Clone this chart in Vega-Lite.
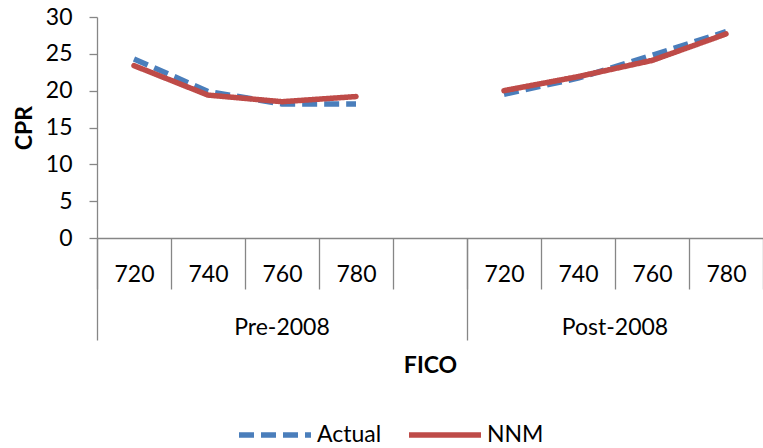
{
  "$schema": "https://vega.github.io/schema/vega-lite/v6.json",
  "width": 666,
  "height": 221,
  "autosize": {"type": "none"},
  "padding": {"left": 97, "top": 17, "right": 0, "bottom": 210},
  "background": "white",
  "config": {
    "view": {"stroke": null},
    "font": "Lato",
    "axis": {
      "grid": false,
      "domainColor": "#868686",
      "tickColor": "#868686",
      "domainWidth": 1.3,
      "tickWidth": 1.3,
      "labelColor": "black",
      "labelFont": "Lato",
      "labelFontSize": 23,
      "titleFont": "Lato",
      "titleFontSize": 23,
      "titleFontWeight": "bold",
      "titleColor": "black"
    }
  },
  "data": {
    "values": [
      {"period": "Pre-2008", "slot": "Pre-2008 720", "series": "Actual", "cpr": 24.3},
      {"period": "Pre-2008", "slot": "Pre-2008 740", "series": "Actual", "cpr": 19.9},
      {"period": "Pre-2008", "slot": "Pre-2008 760", "series": "Actual", "cpr": 18.2},
      {"period": "Pre-2008", "slot": "Pre-2008 780", "series": "Actual", "cpr": 18.2},
      {"period": "Post-2008", "slot": "Post-2008 720", "series": "Actual", "cpr": 19.5},
      {"period": "Post-2008", "slot": "Post-2008 740", "series": "Actual", "cpr": 21.7},
      {"period": "Post-2008", "slot": "Post-2008 760", "series": "Actual", "cpr": 24.8},
      {"period": "Post-2008", "slot": "Post-2008 780", "series": "Actual", "cpr": 28.0},
      {"period": "Pre-2008", "slot": "Pre-2008 720", "series": "NNM", "cpr": 23.4},
      {"period": "Pre-2008", "slot": "Pre-2008 740", "series": "NNM", "cpr": 19.4},
      {"period": "Pre-2008", "slot": "Pre-2008 760", "series": "NNM", "cpr": 18.5},
      {"period": "Pre-2008", "slot": "Pre-2008 780", "series": "NNM", "cpr": 19.2},
      {"period": "Post-2008", "slot": "Post-2008 720", "series": "NNM", "cpr": 20.0},
      {"period": "Post-2008", "slot": "Post-2008 740", "series": "NNM", "cpr": 21.9},
      {"period": "Post-2008", "slot": "Post-2008 760", "series": "NNM", "cpr": 24.1},
      {"period": "Post-2008", "slot": "Post-2008 780", "series": "NNM", "cpr": 27.7}
    ]
  },
  "encoding": {
    "y": {
      "field": "cpr",
      "type": "quantitative",
      "scale": {"domain": [0, 30], "nice": false, "zero": true},
      "axis": {
        "values": [0, 5, 10, 15, 20, 25, 30],
        "title": "CPR",
        "tickSize": 8,
        "labelPadding": 17,
        "titleAngle": -90,
        "titleX": -66,
        "titleY": 110.5,
        "titleAlign": "center",
        "titleBaseline": "alphabetic"
      }
    },
    "detail": {"field": "period", "type": "nominal"},
    "color": {
      "field": "series",
      "type": "nominal",
      "scale": {"domain": ["Actual", "NNM"], "range": ["#4A7EBB", "#BE4B48"]},
      "legend": {
        "title": null,
        "orient": "none",
        "legendX": 139,
        "legendY": 379,
        "direction": "horizontal",
        "symbolType": "stroke",
        "symbolSize": 5184,
        "symbolStrokeWidth": 5.5,
        "labelFont": "Lato",
        "labelFontSize": 23,
        "labelColor": "black",
        "labelOffset": 3,
        "columnPadding": 16,
        "padding": 0
      }
    },
    "strokeDash": {
      "field": "series",
      "type": "nominal",
      "scale": {"domain": ["Actual", "NNM"], "range": [[15, 7], [1, 0]]},
      "legend": {
        "title": null,
        "orient": "none",
        "legendX": 139,
        "legendY": 379,
        "direction": "horizontal",
        "symbolType": "stroke",
        "symbolSize": 5184,
        "symbolStrokeWidth": 5.5,
        "labelFont": "Lato",
        "labelFontSize": 23,
        "labelColor": "black",
        "labelOffset": 3,
        "columnPadding": 16,
        "padding": 0
      }
    }
  },
  "layer": [
    {
      "transform": [{"filter": "datum.series == 'Actual'"}],
      "mark": {"type": "line", "strokeWidth": 5.5, "strokeCap": "butt", "strokeJoin": "round"},
      "encoding": {
        "x": {
          "field": "slot",
          "type": "nominal",
          "sort": null,
          "scale": {
            "type": "band",
            "domain": ["Pre-2008 720", "Pre-2008 740", "Pre-2008 760", "Pre-2008 780", "gap", "Post-2008 720", "Post-2008 740", "Post-2008 760", "Post-2008 780"],
            "paddingInner": 0,
            "paddingOuter": 0
          },
          "axis": {
            "orient": "bottom",
            "title": "FICO",
            "tickBand": "extent",
            "tickSize": 51,
            "labelPadding": -26,
            "labelAngle": 0,
            "labelOverlap": false,
            "labelExpr": "datum.value == 'gap' ? '' : split(datum.value, ' ')[1]",
            "titleY": 134,
            "titleBaseline": "alphabetic"
          }
        }
      }
    },
    {
      "transform": [{"filter": "datum.series == 'NNM'"}],
      "mark": {"type": "line", "strokeWidth": 5.5, "strokeCap": "round", "strokeJoin": "round"},
      "encoding": {
        "x": {
          "field": "slot",
          "type": "nominal",
          "sort": null,
          "scale": {
            "type": "band",
            "domain": ["Pre-2008 720", "Pre-2008 740", "Pre-2008 760", "Pre-2008 780", "gap", "Post-2008 720", "Post-2008 740", "Post-2008 760", "Post-2008 780"],
            "paddingInner": 0,
            "paddingOuter": 0
          },
          "axis": {
            "orient": "bottom",
            "title": null,
            "domain": false,
            "bandPosition": 0,
            "values": ["Pre-2008 720", "Pre-2008 760", "Post-2008 720", "Post-2008 760"],
            "tickSize": 102,
            "tickColor": {
              "condition": {"test": "datum.value == 'Pre-2008 760' || datum.value == 'Post-2008 760'", "value": "transparent"},
              "value": "#868686"
            },
            "labelOffset": {
              "condition": {"test": "datum.value == 'Post-2008 760'", "value": -37},
              "value": 0
            },
            "labelExpr": "datum.value == 'Pre-2008 760' ? 'Pre-2008' : datum.value == 'Post-2008 760' ? 'Post-2008' : ''",
            "labelPadding": -24,
            "labelAngle": 0,
            "labelOverlap": false
          }
        }
      }
    }
  ],
  "resolve": {"scale": {"x": "independent"}, "axis": {"x": "independent"}}
}
